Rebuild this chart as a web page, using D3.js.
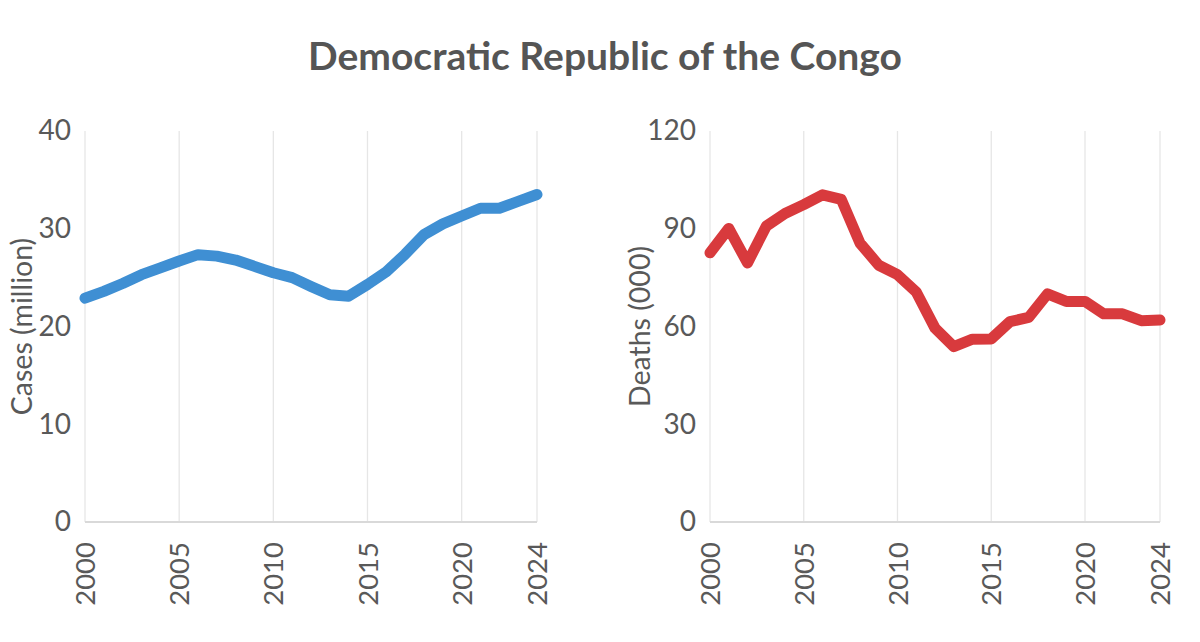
<!DOCTYPE html>
<html>
<head>
<meta charset="utf-8">
<script src="https://cdn.jsdelivr.net/npm/d3@7"></script>
<style>
  body{margin:0;background:#fff;}
  svg text{font-family:"Lato","Noto Sans",sans-serif;}
</style>
</head>
<body>
<svg id="chart" width="1200" height="642"></svg>
<script>
// chart data
const years=d3.range(2000,2025)
const cases=[22.9,23.6,24.4,25.3,26.0,26.7,27.35,27.2,26.8,26.15,25.5,25.0,24.1,23.25,23.1,24.3,25.6,27.4,29.4,30.5,31.3,32.1,32.1,32.8,33.5]
const deaths=[82.6,90.1,79.5,90.8,94.7,97.4,100.4,99.0,85.6,78.8,75.9,70.6,59.5,53.8,56.1,56.2,61.5,62.8,70.0,67.7,67.7,63.9,63.9,61.8,62.0]
const yearTicks=[2000,2005,2010,2015,2020,2024]
const casesTicks=[0,10,20,30,40]
const deathsTicks=[0,30,60,90,120]

const title="Democratic Republic of the Congo"
const textColor="#595959"

const svg=d3.select("#chart")
svg.append("text").attr("x",605).attr("y",70).attr("text-anchor","middle")
   .attr("font-size",39).attr("font-weight","bold").attr("fill","#555").text(title)

//draws one small line panel
function drawPanel(left,right,values,yMax,ticks,label,color,labelX){
    let top=131,bottom=522
    let x=d3.scaleLinear().domain([2000,2024]).range([left,right])
    let y=d3.scaleLinear().domain([0,yMax]).range([bottom,top])
    let g=svg.append("g")

    //vertical grid lines
    g.selectAll(".grid").data(yearTicks).enter().append("line")
     .attr("x1",d=>x(d)).attr("x2",d=>x(d)).attr("y1",top).attr("y2",bottom)
     .attr("stroke","#e6e6e6").attr("stroke-width",1.3)
    g.append("line").attr("x1",left).attr("x2",right).attr("y1",bottom).attr("y2",bottom)
     .attr("stroke","#d9d9d9").attr("stroke-width",2)

    let yAxis=g.append("g").attr("transform",`translate(${left},0)`)
       .call(d3.axisLeft(y).tickValues(ticks).tickSize(0).tickPadding(14))
    yAxis.select(".domain").remove()
    yAxis.selectAll("text").attr("font-size",28).attr("fill",textColor).attr("font-family","Lato, 'Noto Sans', sans-serif")

    let xAxis=g.append("g").attr("transform",`translate(0,${bottom})`)
       .call(d3.axisBottom(x).tickValues(yearTicks).tickFormat(d3.format("d")).tickSize(0))
    xAxis.select(".domain").remove()
    xAxis.selectAll("text").attr("font-size",27.5).attr("fill",textColor).attr("font-family","Lato, 'Noto Sans', sans-serif")
         .attr("text-anchor","end").attr("dy","0.35em").attr("transform","translate(0,20) rotate(-90)").attr("x",0).attr("y",0)

    g.append("text").attr("transform",`translate(${labelX},${(top+bottom)/2}) rotate(-90)`)
     .attr("text-anchor","middle").attr("font-size",28.5).attr("fill",textColor).text(label)

    let line=d3.line().x((d,i)=>x(years[i])).y(d=>y(d))
    g.append("path").datum(values).attr("d",line).attr("fill","none")
     .attr("stroke",color).attr("stroke-width",11).attr("stroke-linejoin","round").attr("stroke-linecap","round")
}

drawPanel(85,537,cases,40,casesTicks,"Cases (million)","#3f8fd3",32)
drawPanel(710,1160,deaths,120,deathsTicks,"Deaths (000)","#d83a3d",650)
</script>
</body>
</html>
